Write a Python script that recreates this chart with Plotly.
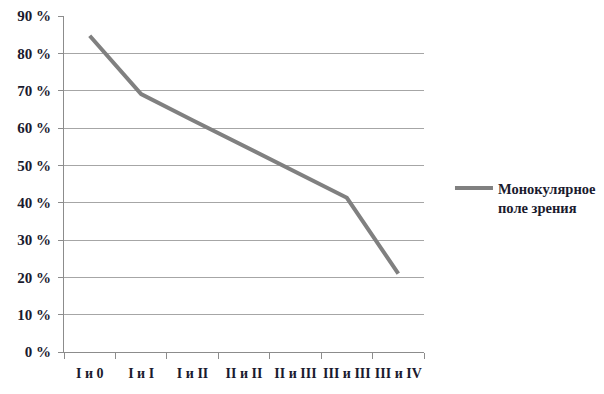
import plotly.graph_objects as go

categories = ["I и 0", "I и I", "I и II", "II и II", "II и III", "III и III", "III и IV"]
values = [84.7, 69.1, 62.1, 55.2, 48.2, 41.3, 21.0]
series_name = "Монокулярное<br>поле зрения"
y_ticks = [0, 10, 20, 30, 40, 50, 60, 70, 80, 90]
y_ticklabels = [f"{v} %" for v in y_ticks]

font_family = "Liberation Serif"
text_color = "#1a1a2e"

fig = go.Figure()
fig.add_trace(go.Scatter(
    x=categories, y=values, mode="lines", name=series_name,
    line=dict(color="#808080", width=4),
))

fig.update_layout(
    width=604, height=394,
    margin=dict(l=64, r=180, t=16, b=42),
    paper_bgcolor="white", plot_bgcolor="white",
    font=dict(family=font_family, size=14, color=text_color),
    showlegend=True,
    legend=dict(
        xref="container", yref="container",
        x=0.745, y=0.563, xanchor="left", yanchor="top", valign="top",
        font=dict(family=font_family, size=14.5, color=text_color, weight="bold"),
        bgcolor="rgba(0,0,0,0)", itemwidth=38,
    ),
    xaxis=dict(
        type="category", range=[-0.5, 6.5], tickangle=0, automargin=False,
        showline=True, linecolor="#8c8c8c", linewidth=1,
        ticks="outside", tickson="boundaries", ticklen=6, tickcolor="#8c8c8c",
        showgrid=False, zeroline=False,
        tickfont=dict(family=font_family, size=14, color=text_color, weight="bold"),
        ticklabelstandoff=8,
    ),
    yaxis=dict(
        range=[0, 90], tickvals=y_ticks, ticktext=y_ticklabels, automargin=False,
        showline=True, linecolor="#8c8c8c", linewidth=1,
        ticks="outside", ticklen=5, tickcolor="#8c8c8c",
        showgrid=True, gridcolor="#a6a6a6", gridwidth=1, zeroline=False,
        tickfont=dict(family=font_family, size=15, color=text_color, weight="bold"),
        ticklabelstandoff=4,
    ),
)

fig.write_html("out.html")
